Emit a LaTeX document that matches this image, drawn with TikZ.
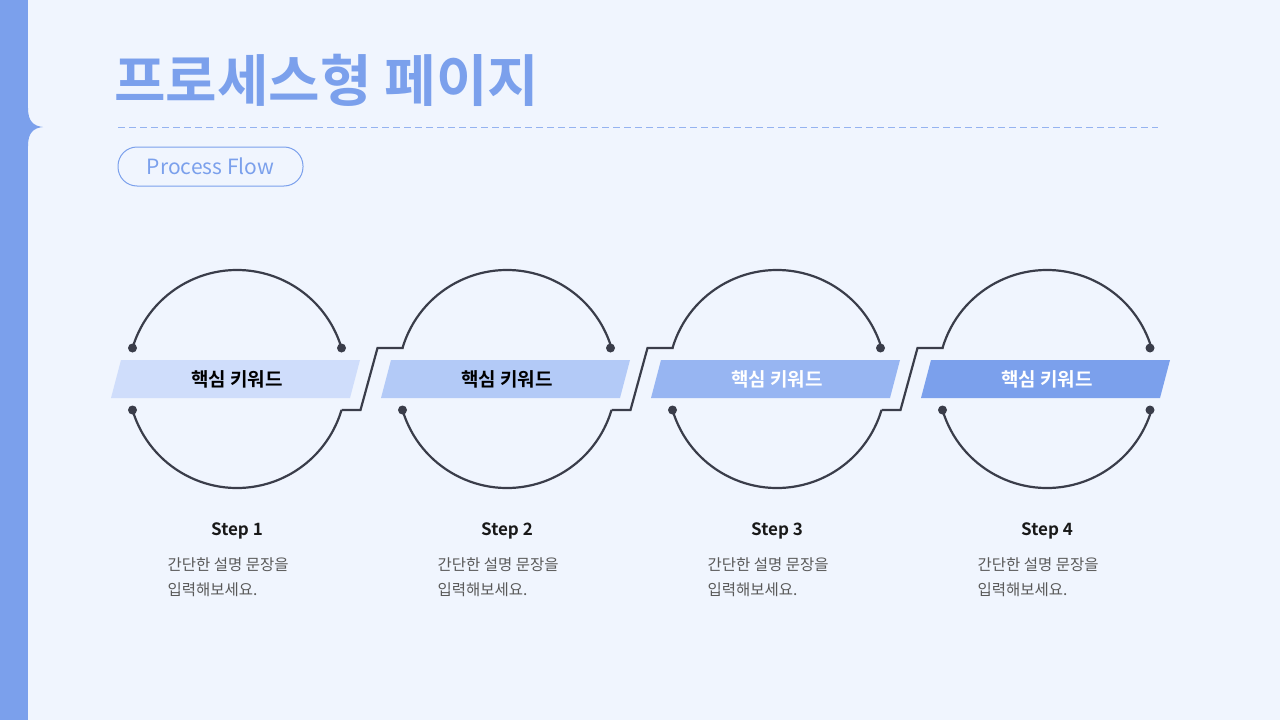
\documentclass[tikz,border=0pt]{standalone}
\usepackage{fontspec}
\setmainfont{Noto Sans CJK KR}
\newfontfamily\kb{Noto Sans CJK KR Bold}
\definecolor{bg}{HTML}{F0F5FE}
\definecolor{accent}{HTML}{7BA0EC}
\definecolor{ink}{HTML}{3A3D4A}
\definecolor{bA}{HTML}{CFDDFB}
\definecolor{bB}{HTML}{B3CAF7}
\definecolor{bC}{HTML}{97B5F2}
\definecolor{bD}{HTML}{7BA0EC}
\tikzset{arcline/.style={draw=ink,line width=2.2pt},
 dotpt/.style={circle,fill=ink,inner sep=0pt,minimum size=9pt},
 kw/.style={font=\kb\fontsize{19}{19}\selectfont},
 steplbl/.style={font=\kb\fontsize{17}{17}\selectfont,text=black!90},
 desc/.style={font=\fontsize{15.5}{25}\selectfont,text=black!65,align=left,anchor=north west}}
\begin{document}
\begin{tikzpicture}[x=1pt,y=-1pt]
\fill[bg] (0,0) rectangle (1280,720);
\useasboundingbox (0,0) rectangle (1280,720);
\fill[accent] (0,0) rectangle (28,720);
\fill[accent] (28,108) .. controls (28,122) and (34,126) .. (43,127) .. controls (34,128) and (28,132) .. (28,146) -- cycle;
\node[anchor=west,text=accent,font=\kb\fontsize{56}{56}\selectfont,inner sep=0] (title) at (114,80) {프로세스형 페이지};
\draw[accent!80,line width=1pt,dash pattern=on 7pt off 4pt] (118,127) coordinate (d1) -- (1158,127) coordinate (d2);
\node[draw=accent,line width=1pt,rounded corners=19pt,minimum width=185pt,minimum height=39pt,text=accent,font=\fontsize{21}{21}\selectfont] (pill) at (210.5,166.5) {Process Flow};
\foreach \i/\c/\t in {0/bA/black,1/bB/black,2/bC/white,3/bD/white}{
  \pgfmathsetmacro{\cx}{237+270*\i}
  \fill[\c] (\cx-116,360) -- (\cx+123,360) -- (\cx+113,398) -- (\cx-126,398) -- cycle;
  \node[kw,text=\t] (k\i) at (\cx,379) {핵심 키워드};
  \draw[arcline] (\cx,379) ++(163.5:109) arc (163.5:16.5:109);
  \draw[arcline] (\cx,379) ++(196.5:109) arc (196.5:343.5:109);
  \node[steplbl] (s\i) at (\cx,531) {Step \the\numexpr\i+1\relax};
  \node[desc] (d\i) at (\cx-73,554) {간단한 설명 문장을\\입력해보세요.};
}
\foreach \i in {0,1,2}{
  \pgfmathsetmacro{\ax}{237+270*\i+104.5}
  \draw[arcline,line join=miter] (\ax,410) -- (\ax+19,410) -- (\ax+36,348) -- (\ax+62,348);
}
\foreach \p in {(132.5,348),(341.5,348),(132.5,410),(610.5,348),(402.5,410),(880.5,348),(672.5,410),(1150,348),(1150,410),(942.5,410)}
  \node[dotpt] at \p {};
\end{tikzpicture}
\end{document}
